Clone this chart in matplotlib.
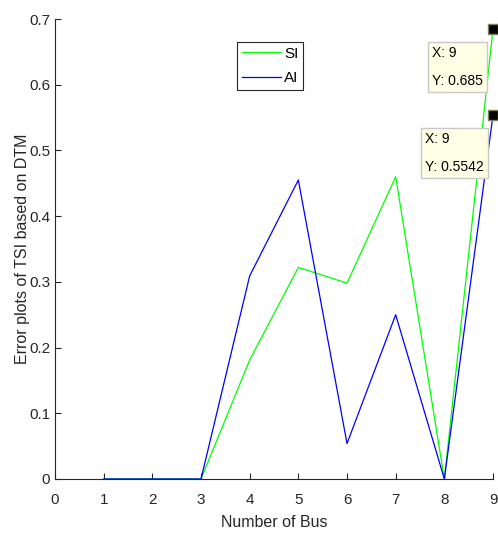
import numpy as np
import matplotlib.pyplot as plt

plt.rcParams['font.family'] = ['Liberation Sans', 'DejaVu Sans']

bus = [1, 2, 3, 4, 5, 6, 7, 8, 9]
si = [0, 0, 0, 0.181, 0.322, 0.298, 0.46, 0, 0.685]
ai = [0, 0, 0, 0.309, 0.455, 0.054, 0.25, 0, 0.5542]

fig = plt.figure(figsize=(4.98, 5.34), dpi=100)
ax = fig.add_axes([0.1104, 0.103, 0.8796, 0.8614])

ax.plot(bus, si, color='#00ff00', lw=0.9, label='SI')
ax.plot(bus, ai, color='#0000ff', lw=0.9, label='AI')

ax.set_xlim(0, 9)
ax.set_ylim(0, 0.7)
ax.set_xticks(range(0, 10))
ax.set_yticks(np.arange(0, 0.71, 0.1))
ax.set_yticklabels(['0', '0.1', '0.2', '0.3', '0.4', '0.5', '0.6', '0.7'])
ax.tick_params(direction='in', length=4, width=0.8, labelsize=11, colors='#262626')
ax.tick_params(axis='x', pad=10)
ax.spines['top'].set_visible(False)
ax.spines['right'].set_visible(False)
for s in ('left', 'bottom'):
    ax.spines[s].set_color('#262626')
    ax.spines[s].set_linewidth(0.8)

ax.set_xlabel('Number of Bus', fontsize=11.5, color='#262626', labelpad=6)
ax.set_ylabel('Error plots of TSI based on DTM', fontsize=11.5, color='#262626', labelpad=-1)

leg = ax.legend(loc='upper left', bbox_to_anchor=(0.4155, 0.95), fontsize=11,
                fancybox=False, framealpha=1, edgecolor='#262626',
                handlelength=2.6, handletextpad=0.2, borderpad=0.3,
                labelspacing=0.7, borderaxespad=0)
leg.get_frame().set_linewidth(0.8)

# data tips
tips = [(9, si[-1], 'X: 9\nY: 0.685', (-61, -17)),
        (9, ai[-1], 'X: 9\nY: 0.5542', (-68, -17)),
        ]
for x, y, txt, off in tips:
    ax.plot(x, y, 's', color='black', ms=7.5, mec='#808060', clip_on=False, zorder=5)
    ax.annotate(txt, xy=(x, y), xytext=off, textcoords='offset pixels',
                ha='left', va='top', fontsize=10, linespacing=2.3,
                bbox=dict(boxstyle='square,pad=0.3', fc='#ffffe6', ec='#c8c8c8', lw=1))

fig.savefig('out.png', dpi=100)
